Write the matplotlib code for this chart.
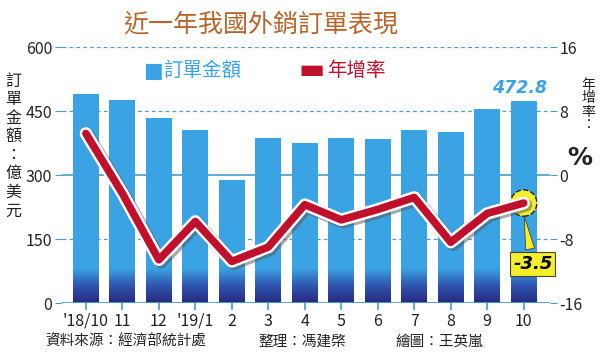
import numpy as np
import matplotlib.pyplot as plt
import matplotlib.patheffects as pe
from matplotlib.colors import LinearSegmentedColormap

plt.rcParams['font.family'] = ['Noto Sans CJK TC', 'DejaVu Sans']

months = ["'18/10", "11", "12", "'19/1", "2", "3", "4", "5", "6", "7", "8", "9", "10"]
orders = [491, 477, 434, 405, 288, 387, 376, 388, 384, 405, 400, 455, 472.8]
growth = [5.2, -2.3, -10.6, -5.8, -10.8, -9.0, -3.7, -5.6, -4.3, -2.8, -8.4, -4.8, -3.5]

BLUE = '#3aa3e3'
RED = '#c0102c'
GRID = '#4a9cc8'


def main():
    fig = plt.figure(figsize=(6, 3.54), dpi=100)
    ax = fig.add_axes([0.103, 0.144, 0.813, 0.723])
    ax2 = ax.twinx()
    x = np.arange(len(months))

    bars = ax.bar(x, orders, width=0.71, color=BLUE, zorder=2)
    # dark gradient at the foot of every bar
    cmap = LinearSegmentedColormap.from_list('g', ['#262a7e', '#2f55b0', BLUE])
    grad = np.linspace(0, 1, 64).reshape(-1, 1)
    for b in bars:
        im = ax.imshow(grad, cmap=cmap, origin='lower', aspect='auto', zorder=3,
                       extent=[b.get_x(), b.get_x() + b.get_width(), 0, 80])
        im.set_clip_path(b)

    ax.set_xlim(-0.66, 12.71)
    ax.set_ylim(0, 600)
    ax2.set_ylim(-16, 16)
    ax.set_xticks(x)
    ax.set_xticklabels(months)
    ax.set_yticks([0, 150, 300, 450, 600])
    ax2.set_yticks([-16, -8, 0, 8, 16])
    ax2.set_yticklabels(['-16', '-8', '0', '8', '16'])

    for v in [150, 450, 600]:
        ax.axhline(v, color=GRID, lw=0.9, ls=(0, (3, 2.5)), zorder=1)
    ax.axhline(300, color=GRID, lw=1.2, zorder=1)
    ax.axhline(0, color=GRID, lw=2, zorder=4)

    for a in (ax, ax2):
        for s in a.spines.values():
            s.set_visible(False)
        a.tick_params(axis='y', length=5, color=GRID, labelsize=11.5, pad=2,
                      labelcolor='#222222')
    ax.tick_params(axis='x', length=5, color=GRID, width=1.2, labelsize=11.5,
                   pad=2, labelcolor='#222222')

    ax2.plot(x, growth, color=RED, lw=5.5, solid_joinstyle='round',
             solid_capstyle='round', zorder=5,
             path_effects=[pe.SimpleLineShadow(offset=(1.5, -1.5), shadow_color='#555555',
                                               alpha=0.5, linewidth=9.5),
                           pe.Stroke(linewidth=9, foreground='white'), pe.Normal()])
    ax2.scatter([x[-1]], [growth[-1]], s=360, color='#f5ef2a', edgecolor='#222222',
                linestyle='--', linewidth=1, zorder=4)

    ax.text(x[-1] - 0.1, orders[-1] + 10, '472.8', color=BLUE, fontsize=12.5,
            fontweight='bold', style='italic', ha='center', va='bottom',
            family=['DejaVu Sans'], zorder=6)
    ax2.annotate('-3.5', xy=(x[-1], growth[-1] - 1.3), xytext=(x[-1] + 0.25, -11.1),
                 fontsize=13, fontweight='bold', style='italic', ha='center', va='center',
                 family=['DejaVu Sans'], zorder=6,
                 bbox=dict(boxstyle='square,pad=0.15', fc='#f5ef2a', ec='#444444', lw=0.8),
                 arrowprops=dict(arrowstyle='wedge,tail_width=0.5', fc='#f5ef2a',
                                 ec='#444444', lw=0.6))

    fig.text(0.435, 0.93, '近一年我國外銷訂單表現', color='#b8642a', fontsize=18,
             fontweight='medium', ha='center', va='center')
    # legend
    fig.text(0.238, 0.80, '■', color=BLUE, fontsize=15, ha='left', va='center',
             family=['DejaVu Sans'])
    fig.text(0.272, 0.80, '訂單金額', color=BLUE, fontsize=14, ha='left', va='center')
    fig.text(0.497, 0.802, '▬', color=RED, fontsize=20, ha='left', va='center',
             family=['DejaVu Sans'])
    fig.text(0.545, 0.80, '年增率', color=RED, fontsize=14, ha='left', va='center')

    fig.text(0.022, 0.795, '訂\n單\n金\n額\n：\n億\n美\n元', fontsize=11.5, ha='center',
             va='top', linespacing=1.12, color='#222222')
    fig.text(0.98, 0.78, '年\n增\n率\n：', fontsize=10, ha='center', va='top',
             linespacing=0.95, color='#222222')
    fig.text(0.967, 0.555, '%', fontsize=18, fontweight='bold', ha='center',
             va='center', color='#222222', family=['DejaVu Sans'])

    fig.text(0.075, 0.035, '資料來源：經濟部統計處', fontsize=10.5, ha='left',
             va='center', color='#222222')
    fig.text(0.43, 0.035, '整理：馮建棨', fontsize=10.5, ha='left', va='center',
             color='#222222')
    fig.text(0.66, 0.035, '繪圖：王英嵐', fontsize=10.5, ha='left', va='center',
             color='#222222')

    fig.savefig('out.png', dpi=100, facecolor='white')


if __name__ == '__main__':
    main()
